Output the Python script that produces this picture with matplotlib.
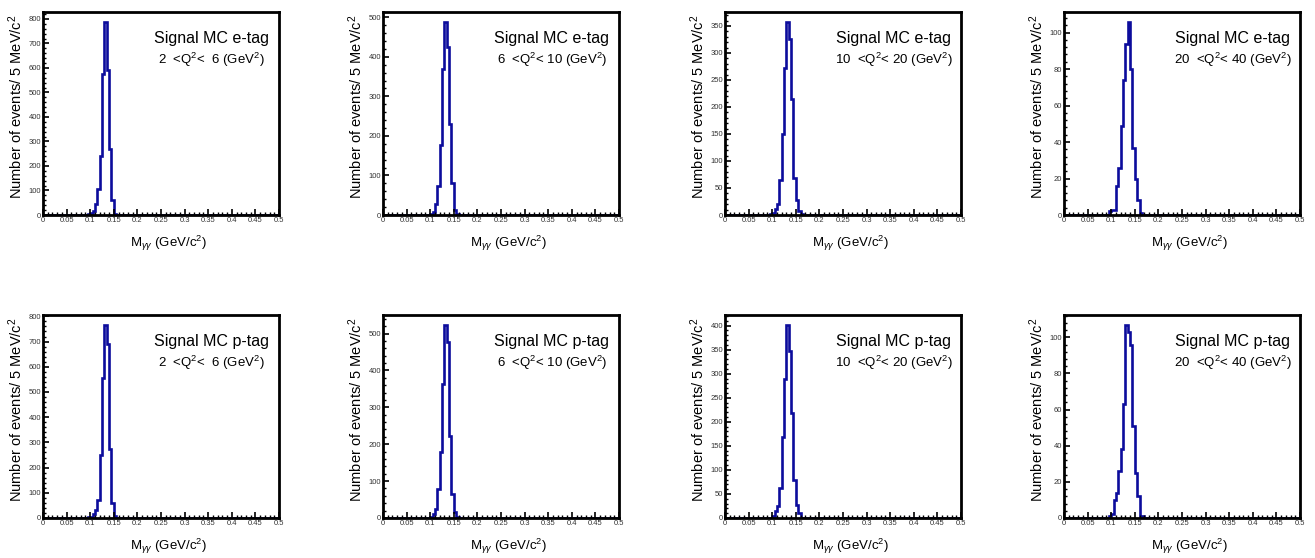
import numpy as np
import matplotlib
matplotlib.use("Agg")
import matplotlib.pyplot as plt
from matplotlib import font_manager
from matplotlib.ticker import MultipleLocator, FuncFormatter

# 5 MeV bins from 0 to 0.5 GeV; counts listed from first_bin upward, other bins empty
first_bin = 0.085
etag_2_6 = [0, 1, 3, 7, 18, 45, 105, 241, 575, 789, 592, 269, 61, 6, 1]
etag_6_10 = [0, 0, 1, 3, 8, 29, 73, 178, 370, 489, 424, 230, 82, 13, 2, 1]
etag_10_20 = [0, 0, 1, 3, 12, 20, 65, 150, 272, 358, 326, 215, 68, 27, 8, 1]
etag_20_40 = [0, 0, 2, 3, 3, 16, 26, 49, 74, 94, 106, 80, 37, 20, 8, 1]
ptag_2_6 = [0, 1, 2, 5, 15, 33, 72, 249, 557, 767, 692, 273, 59, 8, 1]
ptag_6_10 = [0, 0, 1, 3, 10, 24, 78, 179, 363, 524, 477, 223, 65, 15, 2, 1]
ptag_10_20 = [0, 0, 1, 5, 15, 25, 62, 168, 289, 402, 348, 218, 79, 27, 10, 1]
ptag_20_40 = [0, 0, 1, 2, 10, 14, 26, 38, 63, 107, 103, 96, 51, 25, 12, 1, 1]

tags = ["e-tag", "p-tag"]
q2_ranges = [r"2  <Q$^{2}$<  6 (GeV$^{2}$)", r"6  <Q$^{2}$< 10 (GeV$^{2}$)",
             r"10  <Q$^{2}$< 20 (GeV$^{2}$)", r"20  <Q$^{2}$< 40 (GeV$^{2}$)"]
counts = [[etag_2_6, etag_6_10, etag_10_20, etag_20_40],
          [ptag_2_6, ptag_6_10, ptag_10_20, ptag_20_40]]
ytick_steps = [[100, 100, 50, 20], [100, 100, 50, 20]]

names = {f.name for f in font_manager.fontManager.ttflist}
narrow = "Liberation Sans Narrow" if "Liberation Sans Narrow" in names else "Liberation Sans"
plt.rcParams["font.family"] = [narrow, "DejaVu Sans"]
plt.rcParams["mathtext.fontset"] = "custom"
plt.rcParams["mathtext.rm"] = narrow
plt.rcParams["mathtext.it"] = narrow + ":italic"

edges = np.linspace(0, 0.5, 101)
i0 = int(round(first_bin / 0.005))

fig = plt.figure(figsize=(13.15, 5.58), dpi=100)
lefts = [43, 383, 725, 1064]
bottoms = [215, 518]
W, H = 1315.0, 558.0

for r in range(2):
    for c in range(4):
        ax = fig.add_axes([lefts[c] / W, 1 - bottoms[r] / H, 236 / W, 203 / H])
        h = np.zeros(100)
        vals = counts[r][c]
        h[i0:i0 + len(vals)] = vals
        ax.stairs(h, edges, color="#0c0c9c", lw=1.9)
        ax.set_xlim(0, 0.5)
        ax.set_ylim(0, h.max() * 1.05)

        ax.xaxis.set_major_locator(MultipleLocator(0.05))
        ax.xaxis.set_minor_locator(MultipleLocator(0.01))
        ax.xaxis.set_major_formatter(FuncFormatter(lambda v, p: "%g" % round(v, 3)))
        st = ytick_steps[r][c]
        ax.yaxis.set_major_locator(MultipleLocator(st))
        ax.yaxis.set_minor_locator(MultipleLocator(st / 5))
        ax.tick_params(which="both", direction="in", top=False, right=False,
                       labelsize=5.5, labelcolor="#333333", pad=1.5)
        ax.tick_params(which="major", length=4.5, width=1.2)
        ax.tick_params(which="minor", length=2.5, width=1)
        for s in ax.spines.values():
            s.set_linewidth(2)

        ax.text(-0.115, 0.535, "Number of events/ 5 MeV/c$^{2}$", rotation=90,
                ha="center", va="center", fontsize=10.5, transform=ax.transAxes)
        ax.text(0.53, -0.14, r"M$_{\gamma\gamma}$ (GeV/c$^{2}$)", ha="center",
                va="center", fontsize=9.5, transform=ax.transAxes)
        ax.text(0.715, 0.87, "Signal MC " + tags[r], ha="center", va="center",
                fontsize=11.5, transform=ax.transAxes)
        ax.text(0.715, 0.765, q2_ranges[c], ha="center", va="center",
                fontsize=9.5, transform=ax.transAxes)

fig.savefig("out.png", dpi=100)
